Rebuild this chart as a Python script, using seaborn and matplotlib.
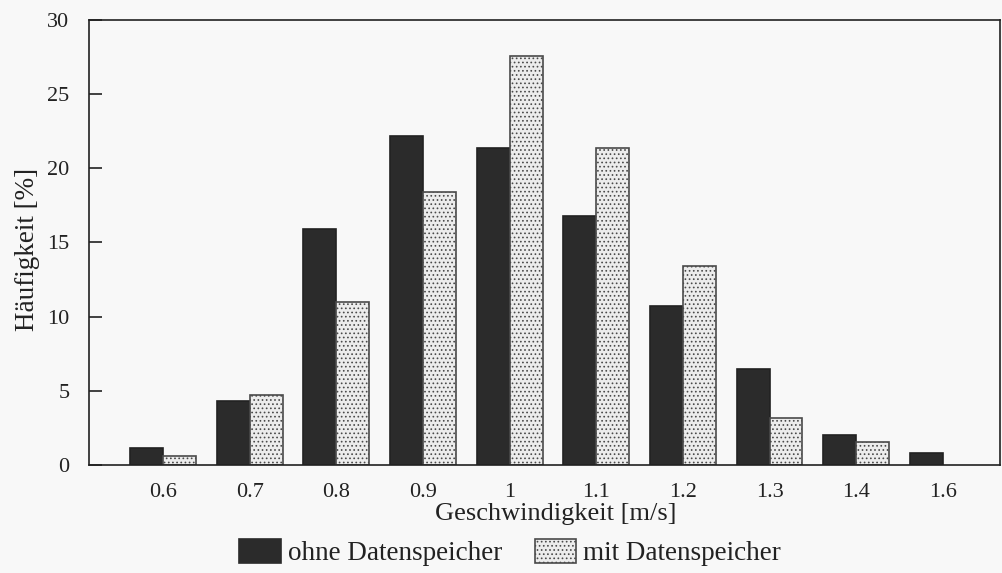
import matplotlib
matplotlib.use("Agg")
import matplotlib.pyplot as plt
from matplotlib.patches import Patch
import pandas as pd
import seaborn as sns

# Speed classes and relative frequencies (%)
speeds = ["0.6", "0.7", "0.8", "0.9", "1", "1.1", "1.2", "1.3", "1.4", "1.6"]
ohne = [1.15, 4.3, 15.9, 22.2, 21.4, 16.8, 10.7, 6.5, 2.0, 0.8]
mit = [0.6, 4.7, 11.0, 18.4, 27.6, 21.4, 13.4, 3.2, 1.55, 0.0]
series = ["ohne Datenspeicher", "mit Datenspeicher"]
y_ticks = [0, 5, 10, 15, 20, 25, 30]

df = pd.DataFrame({
    "Geschwindigkeit": speeds * 2,
    "Häufigkeit": ohne + mit,
    "Messung": [series[0]] * len(speeds) + [series[1]] * len(speeds),
})

sns.set_theme(style="white")
plt.rcParams["font.family"] = ["Liberation Serif", "DejaVu Serif"]
plt.rcParams["hatch.linewidth"] = 0.7

bg = "#f8f8f8"
dark = "#2b2b2b"
light = "#ececec"
line = "#222222"

fig = plt.figure(figsize=(10.02, 5.73), dpi=100, facecolor=bg)
ax = fig.add_axes([0.0888, 0.1885, 0.9092, 0.7766])
ax.set_facecolor(bg)

sns.barplot(
    data=df, x="Geschwindigkeit", y="Häufigkeit", hue="Messung",
    order=speeds, hue_order=series, palette=[dark, light],
    width=0.76, gap=0, saturation=1, edgecolor=line, linewidth=1.2,
    legend=False, ax=ax,
)

# stippled fill for the second series; empty classes get no outline
for bar, val in zip(ax.containers[1], mit):
    bar.set_hatch("....")
    bar.set_edgecolor("#4a4a4a")
    if val == 0:
        bar.set_visible(False)

ax.set_xlim(-0.855, 9.66)
ax.set_ylim(0, 30)
ax.set_yticks(y_ticks)
ax.set_yticklabels([str(t) for t in y_ticks])

for s in ax.spines.values():
    s.set_visible(True)
    s.set_color(line)
    s.set_linewidth(1.2)

ax.tick_params(axis="y", direction="in", length=9.5, width=1.2, color=line,
               pad=14, labelsize=16, labelcolor="#222222", left=True)
ax.tick_params(axis="x", length=0, pad=13, labelsize=16, labelcolor="#222222")

ax.set_xlabel("Geschwindigkeit [m/s]", fontsize=19, color="#222222")
ax.set_ylabel("Häufigkeit [%]", fontsize=19.5, color="#222222")
ax.xaxis.set_label_coords(0.512, -0.085)
ax.yaxis.set_label_coords(-0.054, 0.485)

handles = [
    Patch(facecolor=dark, edgecolor=dark, linewidth=1.2),
    Patch(facecolor=light, edgecolor="#4a4a4a", hatch="....", linewidth=1.2),
]
fig.legend(handles, series, loc="center", bbox_to_anchor=(0.509, 0.035),
           ncol=2, frameon=False, fontsize=19.5, handlelength=1.55,
           handleheight=0.95, handletextpad=0.25, columnspacing=1.2,
           borderpad=0, labelcolor="#222222")

fig.savefig("out.png", dpi=100, facecolor=bg)
